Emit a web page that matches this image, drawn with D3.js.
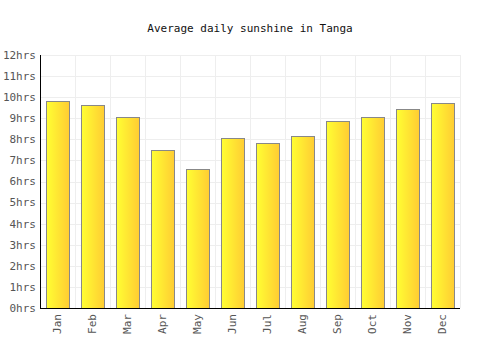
<!DOCTYPE html>
<html lang="en">
<head>
  <meta charset="UTF-8">
  <title>Average daily sunshine in Tanga</title>
  <script src="https://d3js.org/d3.v7.min.js"></script>
  <style>
    body { margin: 0; background: #fff; }
    svg text { font-family: 'DejaVu Sans Mono', monospace; }
  </style>
</head>
<body>
  <svg id="chart"></svg>
  <script>
    const months = ["Jan", "Feb", "Mar", "Apr", "May", "Jun", "Jul", "Aug", "Sep", "Oct", "Nov", "Dec"];
    const sunshine = [9.8, 9.62, 9.08, 7.48, 6.58, 8.05, 7.81, 8.15, 8.87, 9.08, 9.43, 9.71];
    const yTicks = [0, 1, 2, 3, 4, 5, 6, 7, 8, 9, 10, 11, 12];

    const width = 500, height = 350;
    const margin = { top: 55, right: 40, bottom: 42, left: 40 };
    const w = width - margin.left - margin.right;
    const h = height - margin.top - margin.bottom;

    const svg = d3.select("#chart")
      .attr("width", width)
      .attr("height", height);

    const grad = svg.append("defs").append("linearGradient")
      .attr("id", "barGrad")
      .attr("x1", "0%").attr("x2", "100%").attr("y1", "0%").attr("y2", "0%");
    grad.append("stop").attr("offset", "0%").attr("stop-color", "#ffff33");
    grad.append("stop").attr("offset", "100%").attr("stop-color", "#ffcc33");

    svg.append("text")
      .attr("x", width / 2)
      .attr("y", 32)
      .attr("text-anchor", "middle")
      .attr("font-size", 11)
      .attr("fill", "#111")
      .text("Average daily sunshine in Tanga");

    const g = svg.append("g")
      .attr("transform", `translate(${margin.left},${margin.top})`);

    const x = d3.scaleBand()
      .domain(months)
      .range([0, w])
      .paddingInner(0.34)
      .paddingOuter(0.17);

    const y = d3.scaleLinear()
      .domain([0, 12])
      .range([h, 0]);

    // grid
    g.selectAll(".hgrid")
      .data(yTicks)
      .enter().append("line")
      .attr("x1", 0).attr("x2", w)
      .attr("y1", d => Math.round(y(d)) + 0.5)
      .attr("y2", d => Math.round(y(d)) + 0.5)
      .attr("stroke", "#eeeeee");

    const step = w / months.length;
    g.selectAll(".vgrid")
      .data(d3.range(months.length + 1))
      .enter().append("line")
      .attr("y1", 0).attr("y2", h)
      .attr("x1", d => Math.round(d * step) + 0.5)
      .attr("x2", d => Math.round(d * step) + 0.5)
      .attr("stroke", "#eeeeee");

    // bars
    g.selectAll(".bar")
      .data(sunshine)
      .enter().append("rect")
      .attr("x", (d, i) => Math.round(x(months[i])) + 0.5)
      .attr("y", d => Math.round(y(d)) + 0.5)
      .attr("width", Math.round(x.bandwidth()))
      .attr("height", d => Math.round(h - y(d)))
      .attr("fill", "url(#barGrad)")
      .attr("stroke", "#888888")
      .attr("stroke-width", 1);

    // y axis labels
    g.selectAll(".ylab")
      .data(yTicks)
      .enter().append("text")
      .attr("x", -4)
      .attr("y", d => y(d))
      .attr("dy", "0.35em")
      .attr("text-anchor", "end")
      .attr("font-size", 11)
      .attr("fill", "#555")
      .text(d => d + "hrs");

    // x axis labels
    g.selectAll(".xlab")
      .data(months)
      .enter().append("text")
      .attr("transform", d => `translate(${x(d) + x.bandwidth() / 2},${h + 6}) rotate(-90)`)
      .attr("dy", "0.35em")
      .attr("text-anchor", "end")
      .attr("font-size", 11)
      .attr("fill", "#555")
      .text(d => d);

    // axis lines
    g.append("line")
      .attr("x1", 0.5).attr("x2", 0.5)
      .attr("y1", 0).attr("y2", h + 0.5)
      .attr("stroke", "#000");
    g.append("line")
      .attr("x1", 0).attr("x2", w)
      .attr("y1", h + 0.5).attr("y2", h + 0.5)
      .attr("stroke", "#000");
  </script>
</body>
</html>
